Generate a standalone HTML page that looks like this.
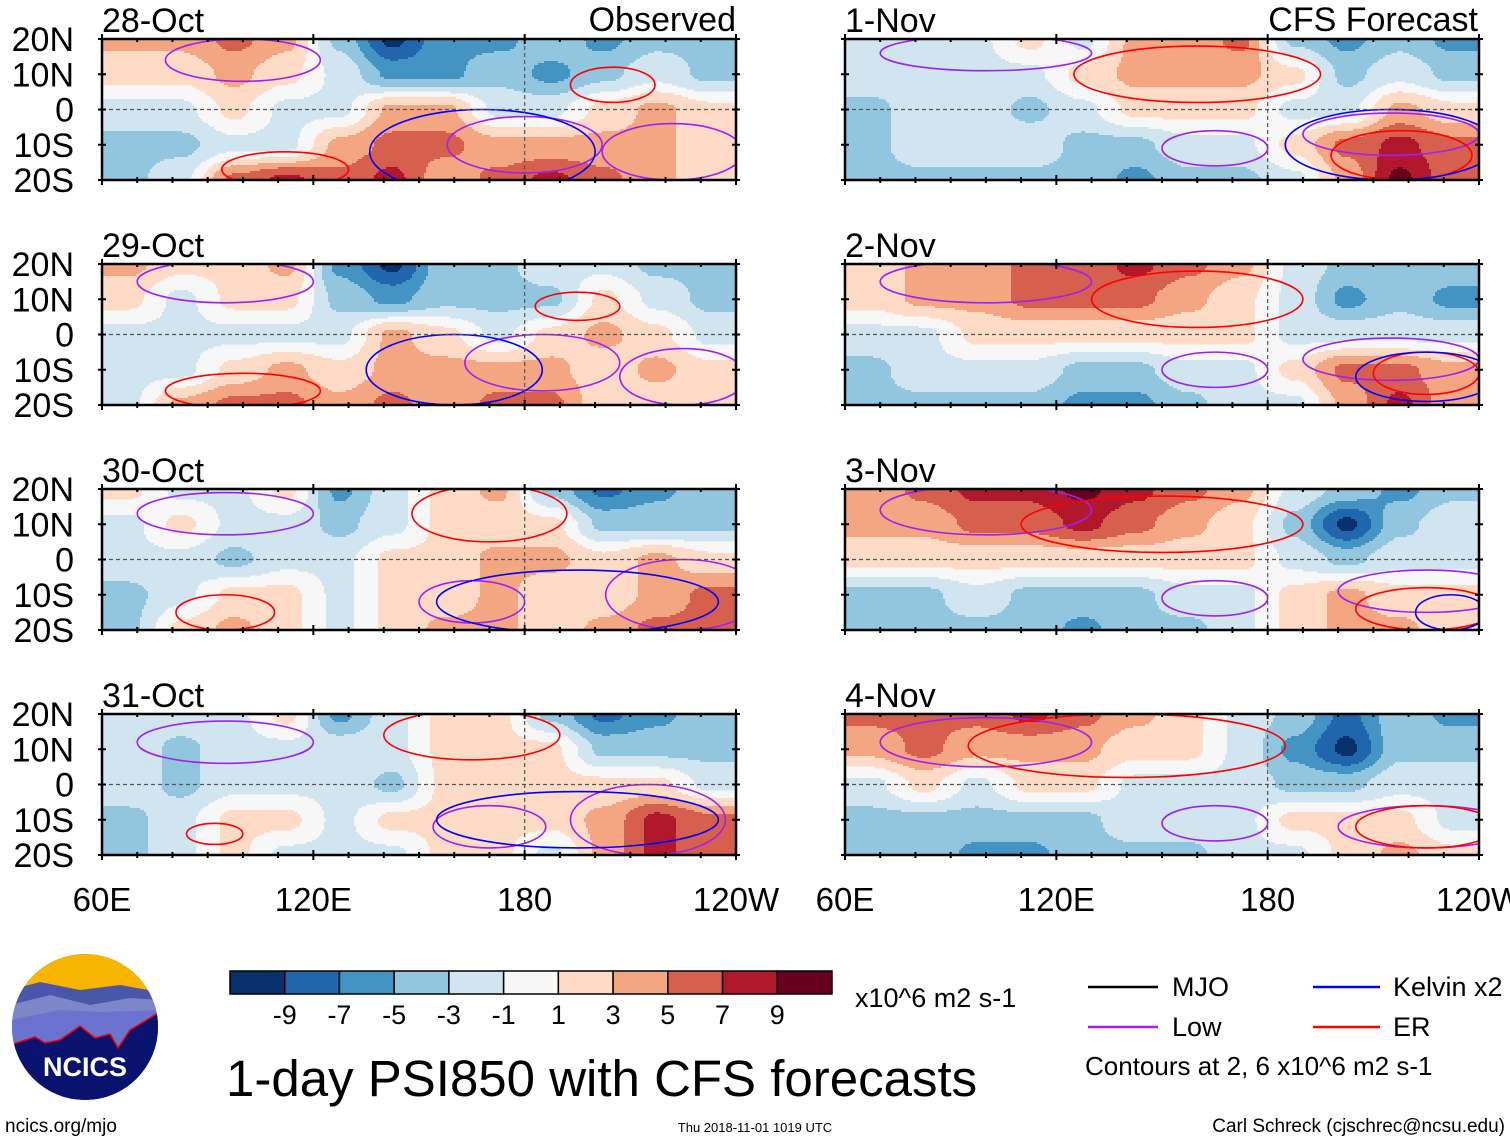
<!DOCTYPE html>
<html><head><meta charset="utf-8"><style>
body{margin:0;background:#fff;width:1510px;height:1142px;overflow:hidden;font-family:"Liberation Sans",sans-serif}
svg{position:absolute;left:0;top:0}
text{font-family:"Liberation Sans",sans-serif;fill:#000}
</style></head><body>
<svg id="chart" width="1510" height="1142" viewBox="0 0 1510 1142">
<defs>
<clipPath id="logoclip"><circle cx="85" cy="1027" r="73"/></clipPath>
</defs>
<g id="panels"></g>
<g id="bottom"></g>
</svg>
<script>
// ---- Data ----
const panelTitles = ["28-Oct","29-Oct","30-Oct","31-Oct","1-Nov","2-Nov","3-Nov","4-Nov"];
const lonCenters = [67.5,82.5,97.5,112.5,127.5,142.5,157.5,172.5,187.5,202.5,217.5,232.5];
const latCenters = [20,10,0,-10,-20];
const field28Oct = [[3,3,5,3,-3,-9,-5,-5,-3,-5,-3,-3],[1,1,3,1,-1,-5,-5,-3,-5,-3,-1,-3],[-1,-1,1,-1,-1,3,3,-1,-1,1,3,1],[-3,-3,-1,-1,3,5,5,3,3,3,3,1],[-3,-1,5,7,5,7,3,5,7,5,3,1]];
const field29Oct = [[3,1,1,3,-5,-9,-3,-3,-1,-1,-3,-3],[1,-1,1,1,-3,-5,-3,-3,-3,1,-1,-3],[-1,-1,-1,-1,-1,3,1,-1,1,3,1,-1],[-1,-1,1,3,1,3,3,3,3,1,3,1],[-1,3,5,5,3,5,3,5,5,1,1,1]];
const field30Oct = [[1,-1,-1,1,-5,-1,1,3,-3,-7,-5,-3],[-1,1,-1,-1,-3,-1,1,1,1,-3,-3,-3],[-1,-1,-3,-1,-1,1,1,3,3,1,3,1],[-3,-1,1,1,-1,1,1,3,1,1,3,5],[-3,1,3,1,-1,1,3,3,1,3,5,5]];
const field31Oct = [[-1,-1,-1,1,-5,-1,1,1,-3,-7,-5,-3],[-1,-3,-1,-1,-1,-1,1,1,1,-3,-3,-3],[-1,-3,-1,-1,-1,-3,1,1,1,1,1,-1],[-3,-1,1,1,-1,1,1,1,1,3,7,5],[-3,-1,1,-1,-1,-1,1,1,-1,3,7,5]];
const field1Nov = [[-1,-1,-1,1,-1,3,3,5,-3,-5,-3,-5],[-1,-1,-1,-1,1,3,3,3,1,-3,-1,-3],[-3,-1,-1,-3,-1,1,1,1,-1,-1,3,1],[-3,-1,-1,-1,-3,-3,-1,-1,1,5,7,5],[-3,-3,-3,-3,-3,-5,-3,-3,-1,3,9,5]];
const field2Nov = [[1,3,3,5,5,7,5,3,-1,-3,-3,-3],[1,3,3,5,5,5,3,1,-1,-5,-3,-5],[-1,-1,1,1,1,1,1,1,-1,-1,-1,-1],[-3,-1,-1,-1,-3,-3,-1,-1,1,5,5,3],[-3,-3,-3,-3,-5,-5,-3,-1,-1,3,7,3]];
const field3Nov = [[3,5,7,7,9,7,5,3,-1,-3,-5,-3],[3,3,5,5,7,5,3,1,-3,-9,-3,-1],[1,1,1,1,1,1,1,1,-1,-3,-1,-1],[-3,-3,-1,-3,-3,-3,-1,-1,1,3,1,1],[-3,-3,-3,-3,-5,-3,-3,-1,1,3,3,1]];
const field4Nov = [[5,5,5,7,5,3,1,-1,-3,-7,-3,-5],[3,5,3,3,3,1,1,-1,-5,-9,-3,-3],[-1,1,-1,1,1,-1,-1,-1,-3,-3,-1,-1],[-3,-3,-3,-3,-3,-1,-1,-1,1,1,1,-1],[-3,-3,-5,-5,-3,-3,-3,-1,-1,1,3,1]];
const fields = [field28Oct,field29Oct,field30Oct,field31Oct,field1Nov,field2Nov,field3Nov,field4Nov];
// contours: [type, lonCenter, latCenter, lonRadius, latRadius]
const contours28Oct = [["low",100,14,22,6],["er",205,7,12,5],["low",180,-10,22,8],["low",222,-12,20,8],["er",112,-17,18,5],["kelvin",168,-12,32,12]];
const contours29Oct = [["low",95,15,25,6],["er",195,8,12,4],["low",185,-8,22,8],["low",225,-12,18,8],["er",100,-16,22,5],["kelvin",160,-10,25,10]];
const contours30Oct = [["low",95,13,25,6],["er",170,13,22,8],["low",165,-12,15,6],["low",225,-10,22,10],["er",95,-15,14,5],["kelvin",195,-12,40,9]];
const contours31Oct = [["low",95,12,25,6],["er",165,14,25,7],["low",170,-12,16,6],["low",215,-10,22,10],["er",92,-14,8,3],["kelvin",195,-10,40,8]];
const contours1Nov = [["low",100,16,30,5],["er",160,10,35,8],["low",165,-11,15,5],["low",215,-7,25,6],["er",218,-13,20,7],["kelvin",215,-10,30,10]];
const contours2Nov = [["low",100,15,30,6],["er",160,10,30,8],["low",165,-10,15,5],["low",215,-7,25,6],["er",225,-11,15,6],["kelvin",225,-12,20,7]];
const contours3Nov = [["low",100,14,30,7],["er",150,10,40,8],["low",165,-11,15,5],["low",225,-9,25,6],["er",225,-14,20,6],["kelvin",232,-15,10,5]];
const contours4Nov = [["low",100,12,30,7],["er",140,11,45,9],["low",165,-11,15,5],["low",225,-12,25,6],["er",225,-12,20,6]];
const contourSets = [contours28Oct,contours29Oct,contours30Oct,contours31Oct,contours1Nov,contours2Nov,contours3Nov,contours4Nov];
const levels = [-9,-7,-5,-3,-1,1,3,5,7,9];
const shadeColors = ["#08306b","#2166ac","#4393c3","#92c5de","#d1e5f0","#f7f7f7","#fddbc7","#f4a582","#d6604d","#b2182b","#67001f"];
const latTicks = ["20N","10N","0","10S","20S"];
const latTickValues = [20,10,0,-10,-20];
const lonTicks = ["60E","120E","180","120W"];
const lonTickValues = [60,120,180,240];

// ---- Drawing ----
const NS="http://www.w3.org/2000/svg";
function el(tag,attrs,parent){const e=document.createElementNS(NS,tag);for(const k in attrs)e.setAttribute(k,attrs[k]);if(parent)parent.appendChild(e);return e;}
const W=634,H=141,colX=[102,845],rowY=[39,264,489,714];
function colorIdx(v){let i=0;while(i<levels.length&&v>levels[i])i++;return i;}
function sm(t){return t*t*(3-2*t);}
function binv(v){return v===0?0:v+Math.sign(v)*0.6;}
function sample(f,lon,lat){
  let u=(lon-lonCenters[0])/(lonCenters[1]-lonCenters[0]);u=Math.max(0,Math.min(lonCenters.length-1,u));
  let v=(latCenters[0]-lat)/(latCenters[0]-latCenters[1]);v=Math.max(0,Math.min(latCenters.length-1,v));
  const i0=Math.min(Math.floor(u),lonCenters.length-2),j0=Math.min(Math.floor(v),latCenters.length-2);
  const a=sm(u-i0),b=sm(v-j0);
  const F=(j,i)=>binv(f[j][i]);
  return (F(j0,i0)*(1-a)+F(j0,i0+1)*a)*(1-b)+(F(j0+1,i0)*(1-a)+F(j0+1,i0+1)*a)*b;
}
const contourColor={low:"#a020f0",er:"#ff0000",kelvin:"#0000ff",mjo:"#000"};
const root=document.getElementById('panels');
const STEP=2;
fields.forEach((f,p)=>{
  const x0=colX[p<4?0:1],y0=rowY[p%4];
  const xs=lon=>x0+(lon-60)/180*W, ys=lat=>y0+(20-lat)/40*H;
  const lonOf=x=>60+(x-x0)/W*180, latOf=y=>20-(y-y0)/H*40;
  const g=el('g',{},root);
  
  
  const cp=el('clipPath',{id:'cp'+p},g);el('rect',{x:x0,y:y0,width:W,height:H},cp);
  const cg=el('g',{'clip-path':'url(#cp'+p+')'},g);
  el('rect',{x:x0,y:y0,width:W,height:H,fill:'#f7f7f7'},cg);
  const hg=el('g',{'shape-rendering':'crispEdges'},cg);
  for(let y=y0;y<y0+H;y+=STEP){
    let runStart=x0,runIdx=-1;
    for(let x=x0;x<=x0+W+STEP;x+=STEP){
      const idx=x<x0+W+STEP?colorIdx(sample(f,lonOf(x+STEP/2),latOf(y+STEP/2))):-2;
      if(idx!==runIdx){
        if(runIdx>=0&&runIdx!==5){
          const r=el('rect',{x:runStart,y:y,width:x-runStart,height:STEP+0.4,fill:shadeColors[runIdx]},hg);
          
          
        }
        runStart=x;runIdx=idx;
      }
    }
  }
  contourSets[p].forEach(c=>{
    const e=el('ellipse',{cx:xs(c[1]),cy:ys(c[2]),rx:c[3]/180*W,ry:c[4]/40*H,fill:'none',stroke:contourColor[c[0]],'stroke-width':1.6},cg);
    
    
  });
  el('line',{x1:x0,x2:x0+W,y1:ys(0),y2:ys(0),stroke:'#555','stroke-dasharray':'4,3','stroke-width':1.2},g);
  el('line',{x1:xs(180),x2:xs(180),y1:y0,y2:y0+H,stroke:'#555','stroke-dasharray':'4,3','stroke-width':1.2},g);
  el('rect',{x:x0,y:y0,width:W,height:H,fill:'none',stroke:'#000','stroke-width':2.5},g);
  for(let lon=60;lon<=240;lon+=10){const maj=lonTickValues.includes(lon);
    el('line',{x1:xs(lon),x2:xs(lon),y1:y0-(maj?5:0),y2:y0+(maj?5:3),stroke:'#000','stroke-width':2},g);
    el('line',{x1:xs(lon),x2:xs(lon),y1:y0+H-(maj?5:3),y2:y0+H+(maj?5:3),stroke:'#000','stroke-width':2},g);}
  latTickValues.forEach(l=>{el('line',{x1:x0-4,x2:x0+4,y1:ys(l),y2:ys(l),stroke:'#000','stroke-width':2},g);el('line',{x1:x0+W-4,x2:x0+W+4,y1:ys(l),y2:ys(l),stroke:'#000','stroke-width':2},g);});
  const t=el('text',{x:x0,y:y0-7,'font-size':34},g);t.textContent=panelTitles[p];
  
  
  if(p<4){latTicks.forEach((s,i)=>{const tt=el('text',{x:74,y:ys(latTickValues[i])+12,'font-size':34,'text-anchor':'end'},g);tt.textContent=s;
    
    });}
  if(p===3||p===7){lonTicks.forEach((s,i)=>{const tt=el('text',{x:xs(lonTickValues[i]),y:911,'font-size':33,'text-anchor':'middle'},g);tt.textContent=s;
    
    });}
});
const h1=el('text',{x:736,y:31,'font-size':34,'text-anchor':'end'},root);h1.textContent='Observed';


const h2=el('text',{x:1478,y:31,'font-size':34,'text-anchor':'end'},root);h2.textContent='CFS Forecast';



// bottom: colorbar
const b=document.getElementById('bottom');
const cbX=230,cbW=602/11;
shadeColors.forEach((c,i)=>{const r=el('rect',{x:cbX+i*cbW,y:971,width:cbW,height:23,fill:c,stroke:'#000','stroke-width':1.5},b);
  
  });
levels.forEach((l,i)=>{const t=el('text',{x:cbX+(i+1)*cbW,y:1024,'font-size':27,'text-anchor':'middle'},b);t.textContent=l;
  
  });
</script>
<svg width="1510" height="1142" style="pointer-events:none">
<text x="855" y="1007" font-size="27">x10^6 m2 s-1</text>
<text x="226" y="1096" font-size="51">1-day PSI850 with CFS forecasts</text>
<g>
<line x1="1088" x2="1158" y1="987" y2="987" stroke="#000" stroke-width="2.5"/><text x="1172" y="996" font-size="27">MJO</text>
<line x1="1313" x2="1380" y1="987" y2="987" stroke="#0000ff" stroke-width="2.5"/><text x="1393" y="996" font-size="27">Kelvin x2</text>
<line x1="1088" x2="1158" y1="1027" y2="1027" stroke="#a020f0" stroke-width="2.5"/><text x="1172" y="1036" font-size="27">Low</text>
<line x1="1313" x2="1380" y1="1027" y2="1027" stroke="#ff0000" stroke-width="2.5"/><text x="1393" y="1036" font-size="27">ER</text>
<text x="1085" y="1075" font-size="26">Contours at 2, 6 x10^6 m2 s-1</text>
</g>
<g clip-path="url(#logoclip)">
<circle cx="85" cy="1027" r="73" fill="#0a1a6e"/>
<rect x="10" y="950" width="150" height="45" fill="#f7b500"/>
<path d="M10 990 L40 982 L80 990 L120 985 L160 992 L160 1060 L10 1060Z" fill="#4a56a8"/>
<path d="M10 1005 L50 995 L90 1005 L130 998 L160 1000 L160 1060 L10 1060Z" fill="#7d86c8"/>
<path d="M10 1020 L60 1010 L100 1012 L160 1010 L160 1060 L10 1060Z" fill="#6a74d0"/>
<path d="M10 1045 L35 1037 L45 1043 L60 1040 L80 1026 L95 1038 L110 1034 L118 1048 L130 1030 L160 1012 L160 1142 L10 1142Z" fill="#0a1270" stroke="#e00" stroke-width="1.5"/>
</g>
<text x="85" y="1076" font-size="27" font-weight="bold" fill="#fff" text-anchor="middle" style="fill:#fff">NCICS</text>
<text x="5" y="1132" font-size="19">ncics.org/mjo</text>
<text x="755" y="1132" font-size="13" text-anchor="middle">Thu 2018-11-01 1019 UTC</text>
<text x="1505" y="1132" font-size="19" text-anchor="end">Carl Schreck (cjschrec@ncsu.edu)</text>
</svg>
</body></html>
